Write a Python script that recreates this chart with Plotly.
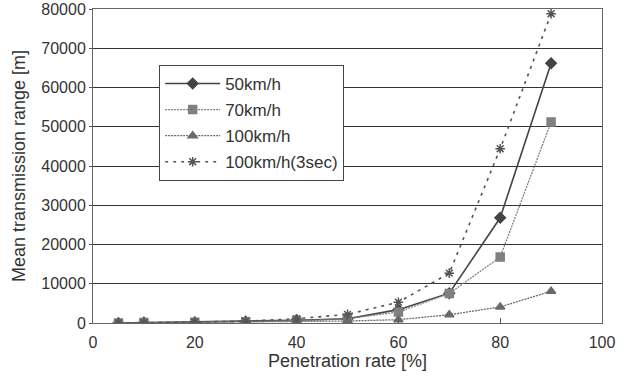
import plotly.graph_objects as go

rate = [5, 10, 20, 30, 40, 50, 60, 70, 80, 90]
v50 = [0, 100, 200, 400, 700, 1100, 3400, 7600, 26800, 66200]
v70 = [0, 100, 200, 350, 600, 1100, 2800, 7500, 16800, 51200]
v100 = [0, 80, 150, 250, 400, 500, 850, 2100, 4100, 8100]
v100s = [0, 120, 250, 450, 1100, 2200, 5300, 12700, 44400, 78800]

names = ["50km/h", "70km/h", "100km/h", "100km/h(3sec)"]
series = [v50, v70, v100, v100s]
colors = ["#444444", "#808080", "#6a6a6a", "#555555"]
dashes = ["solid", "2px,1px", "2px,1px", "3px,5px"]
symbols = ["diamond", "square", "triangle-up", "asterisk"]
widths = [1.6, 1.3, 1.3, 1.6]

fig = go.Figure()
for i, (n, ys) in enumerate(zip(names, series)):
    fig.add_trace(go.Scatter(
        x=rate, y=ys, name=n, mode="lines+markers", legendgroup=n,
        line=dict(color=colors[i], dash=dashes[i], width=widths[i]),
        marker=dict(symbol=symbols[i], size=8, color=colors[i],
                    line=dict(color=colors[i], width=1.5)),
    ))

font = "Liberation Sans, Arial, sans-serif"
fig.update_layout(
    width=635, height=376,
    margin=dict(l=93, r=33, t=9, b=53, autoexpand=False),
    paper_bgcolor="white", plot_bgcolor="white",
    font=dict(family=font, size=16, color="#333333"),
    showlegend=True,
    legend=dict(x=0.13, y=0.822, xanchor="left", yanchor="top",
                bgcolor="white", bordercolor="#444444", borderwidth=1,
                font=dict(size=17, color="#333333"), tracegroupgap=1,
                itemwidth=55),
    xaxis=dict(range=[0, 100], dtick=20, showgrid=False, ticks="inside",
               ticklen=5, tickcolor="#555555", showline=True, linecolor="#666666",
               linewidth=1, mirror=True, zeroline=False, automargin=False,
               ticklabelstandoff=5,
               title=dict(text="Penetration rate [%]", font=dict(size=18), standoff=0)),
    yaxis=dict(range=[0, 80000], dtick=10000, showgrid=True, gridcolor="#333333",
               gridwidth=1, showline=True, linecolor="#666666", linewidth=1,
               mirror=True, zeroline=False, ticks="outside", ticklen=3,
               tickcolor="#555555", tickformat="d", automargin=False,
               title=dict(text="Mean transmission range [m]", font=dict(size=18), standoff=10)),
)
fig.write_html("out.html")
